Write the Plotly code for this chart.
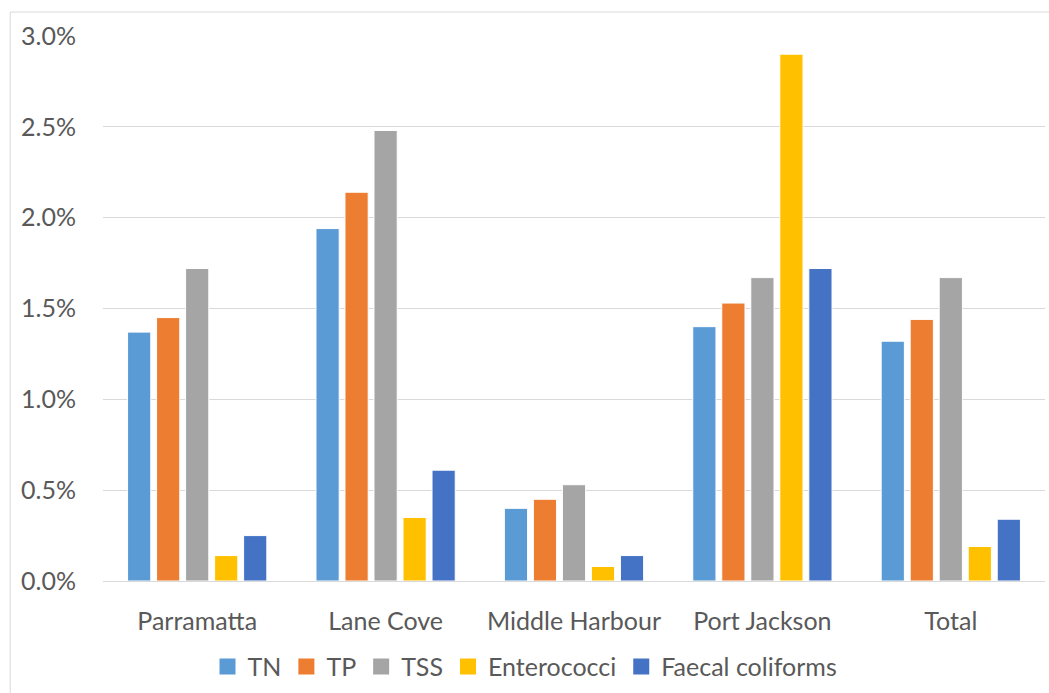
import plotly.graph_objects as go

categories = ["Parramatta", "Lane Cove", "Middle Harbour", "Port Jackson", "Total"]
series_names = ["TN", "TP", "TSS", "Enterococci", "Faecal coliforms"]
tn = [0.0137, 0.0194, 0.0040, 0.0140, 0.0132]
tp = [0.0145, 0.0214, 0.0045, 0.0153, 0.0144]
tss = [0.0172, 0.0248, 0.0053, 0.0167, 0.0167]
enterococci = [0.0014, 0.0035, 0.0008, 0.0290, 0.0019]
faecal = [0.0025, 0.0061, 0.0014, 0.0172, 0.0034]
colors = ["#5B9BD5", "#ED7D31", "#A5A5A5", "#FFC000", "#4472C4"]
y_ticks = [0, 0.005, 0.01, 0.015, 0.02, 0.025, 0.03]

fig = go.Figure()
for name, vals, c in zip(series_names, [tn, tp, tss, enterococci, faecal], colors):
    fig.add_trace(go.Bar(name=name, x=categories, y=vals, marker_color=c,
                         marker_line_color="white", marker_line_width=1,
                         legendgroup=name, showlegend=False))
for name, c in zip(series_names, colors):
    fig.add_trace(go.Scatter(name=name, x=[None], y=[None], mode="markers",
                             marker=dict(symbol="square", size=17, color=c),
                             legendgroup=name, showlegend=True))

font = dict(family="Lato, Open Sans, sans-serif", size=25, color="#595959")
lfont = dict(family="Lato, Open Sans, sans-serif", size=25, color="#595959")
fig.update_layout(
    width=1049, height=693,
    margin=dict(l=103, r=4, t=36, b=111),
    paper_bgcolor="white", plot_bgcolor="white",
    barmode="group", bargap=0.23, bargroupgap=0.2,
    font=font,
    showlegend=True,
    legend=dict(orientation="h", x=0.448, xanchor="center", y=-0.113, yanchor="top",
                font=lfont, itemwidth=30, traceorder="normal", tracegroupgap=0,
                itemsizing="trace"),
    xaxis=dict(showgrid=False, showline=True, linecolor="#D9D9D9", linewidth=1,
               ticks="", ticklabelstandoff=18, tickfont=font),
    yaxis=dict(range=[0, 0.03], tickvals=y_ticks, tickformat=".1%",
               showgrid=True, gridcolor="#D9D9D9", gridwidth=1,
               zeroline=False, showline=False, ticks="",
               ticklabelstandoff=26, tickfont=font),
)
fig.add_shape(type="rect", xref="paper", yref="paper",
              x0=-0.0985, x1=1.02, y0=-0.25, y1=1.044,
              line=dict(color="#D9D9D9", width=1), fillcolor="rgba(0,0,0,0)", layer="below")
fig.write_html("out.html", config={"displayModeBar": False},
               post_script="document.body.style.margin='0';")
